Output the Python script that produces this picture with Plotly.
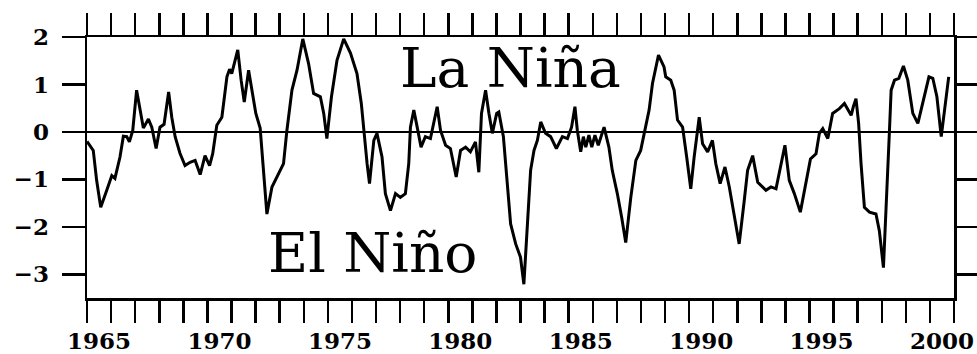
import plotly.graph_objects as go

# Index series (year, value)
years = [
    1965.00, 1965.26, 1965.40, 1965.57, 1965.82, 1966.03, 1966.16, 1966.37, 1966.51, 1966.65,
    1966.76, 1966.90, 1967.06, 1967.23, 1967.34, 1967.55, 1967.69, 1967.87, 1968.03, 1968.20,
    1968.39, 1968.52, 1968.66, 1968.86, 1969.07, 1969.28, 1969.49, 1969.70, 1969.90, 1970.09,
    1970.22, 1970.39, 1970.60, 1970.81, 1970.92, 1971.01, 1971.26, 1971.40, 1971.53, 1971.71,
    1971.85, 1972.01, 1972.19, 1972.33, 1972.47, 1972.68, 1972.95, 1973.16, 1973.30, 1973.51,
    1973.72, 1973.96, 1974.20, 1974.41, 1974.69, 1974.83, 1974.96, 1975.15, 1975.38, 1975.66,
    1975.94, 1976.21, 1976.39, 1976.49, 1976.63, 1976.73, 1976.91, 1977.04, 1977.25, 1977.39,
    1977.60, 1977.81, 1978.01, 1978.22, 1978.36, 1978.43, 1978.57, 1978.71, 1978.87, 1979.05,
    1979.26, 1979.54, 1979.68, 1979.89, 1980.09, 1980.33, 1980.51, 1980.72, 1980.92, 1981.13,
    1981.27, 1981.38, 1981.55, 1981.69, 1981.83, 1982.01, 1982.10, 1982.29, 1982.45, 1982.59,
    1982.80, 1983.00, 1983.14, 1983.32, 1983.42, 1983.56, 1983.70, 1983.84, 1984.04, 1984.25,
    1984.49, 1984.74, 1984.95, 1985.12, 1985.26, 1985.36, 1985.50, 1985.61, 1985.71, 1985.84,
    1985.96, 1986.09, 1986.23, 1986.47, 1986.67, 1986.81, 1987.02, 1987.20, 1987.37, 1987.58,
    1987.79, 1987.99, 1988.13, 1988.34, 1988.48, 1988.73, 1988.96, 1989.03, 1989.24, 1989.38,
    1989.52, 1989.73, 1989.90, 1990.07, 1990.21, 1990.42, 1990.56, 1990.77, 1990.97, 1991.11,
    1991.29, 1991.49, 1991.67, 1991.87, 1992.08, 1992.29, 1992.43, 1992.64, 1992.85, 1993.19,
    1993.40, 1993.61, 1993.82, 1993.98, 1994.16, 1994.37, 1994.62, 1994.81, 1995.04, 1995.27,
    1995.41, 1995.55, 1995.76, 1995.96, 1996.24, 1996.45, 1996.73, 1996.82, 1996.93, 1997.04,
    1997.14, 1997.28, 1997.49, 1997.76, 1997.90, 1998.07, 1998.21, 1998.32, 1998.39, 1998.53,
    1998.71, 1998.90, 1999.08, 1999.29, 1999.50, 1999.71, 1999.96, 2000.12, 2000.29, 2000.47,
    2000.60, 2000.78,
]
index_values = [
    -0.20, -0.39, -1.02, -1.59, -1.23, -0.92, -0.98, -0.53, -0.09, -0.10,
    -0.21, 0.03, 0.88, 0.39, 0.08, 0.27, 0.10, -0.35, 0.10, 0.16,
    0.84, 0.31, -0.10, -0.45, -0.71, -0.64, -0.60, -0.90, -0.50, -0.71,
    -0.46, 0.14, 0.31, 1.16, 1.32, 1.23, 1.73, 1.09, 0.63, 1.30,
    0.88, 0.39, 0.08, -0.81, -1.73, -1.16, -0.88, -0.67, 0.03, 0.88,
    1.30, 1.96, 1.44, 0.81, 0.74, 0.39, -0.14, 0.74, 1.51, 1.96,
    1.66, 1.23, 0.60, 0.00, -0.67, -1.09, -0.18, -0.03, -0.53, -1.30,
    -1.66, -1.30, -1.38, -1.30, -0.67, 0.10, 0.46, 0.10, -0.32, -0.10,
    -0.14, 0.53, 0.03, -0.28, -0.35, -0.95, -0.39, -0.32, -0.42, -0.21,
    -0.85, 0.39, 0.88, 0.39, -0.03, 0.39, 0.42, -0.10, -1.02, -1.94,
    -2.36, -2.64, -3.21, -1.80, -0.81, -0.39, -0.18, 0.21, -0.03, -0.10,
    -0.35, -0.10, -0.14, 0.10, 0.53, 0.03, -0.42, -0.10, -0.32, -0.07,
    -0.32, -0.07, -0.28, 0.10, -0.32, -0.81, -1.30, -1.80, -2.33, -1.38,
    -0.60, -0.39, -0.03, 0.46, 1.02, 1.62, 1.37, 1.16, 1.09, 0.88,
    0.25, 0.10, -0.53, -1.20, -0.53, 0.31, -0.25, -0.42, -0.18, -0.67,
    -1.09, -0.74, -1.16, -1.73, -2.36, -1.45, -0.81, -0.50, -1.06, -1.23,
    -1.16, -1.20, -0.67, -0.28, -1.02, -1.30, -1.69, -1.20, -0.57, -0.46,
    -0.03, 0.07, -0.14, 0.39, 0.49, 0.60, 0.35, 0.53, 0.70, 0.18,
    -0.67, -1.59, -1.69, -1.73, -2.08, -2.86, -1.38, 0.03, 0.88, 1.09,
    1.13, 1.39, 1.09, 0.39, 0.18, 0.60, 1.16, 1.13, 0.74, -0.10,
    0.39, 1.16,
]

year_ticks = list(range(1965, 2002))
label_years = [1965, 1970, 1975, 1980, 1985, 1990, 1995, 2000]
y_ticks = [-3, -2, -1, 0, 1, 2]

tick_font = dict(family="DejaVu Serif", size=23, color="black", weight="bold")

fig = go.Figure()
fig.add_trace(go.Scatter(
    x=years, y=index_values, mode="lines",
    line=dict(color="black", width=3),
    showlegend=False, hoverinfo="skip",
))
# invisible trace on the label axis so it is drawn
fig.add_trace(go.Scatter(
    x=[1965, 2001], y=[0, 0], mode="lines", xaxis="x2",
    line=dict(color="rgba(0,0,0,0)", width=0),
    showlegend=False, hoverinfo="skip",
))

fig.update_layout(
    autosize=True,
    margin=dict(l=87, r=23, t=37, b=56, autoexpand=False),
    paper_bgcolor="white", plot_bgcolor="white",
    hovermode=False,
    xaxis=dict(
        range=[1965, 2001], tickvals=year_ticks, showticklabels=False,
        ticks="outside", ticklen=22, tickwidth=2.5, tickcolor="black",
        showline=True, linewidth=2.5, linecolor="black", mirror="ticks",
        showgrid=False, zeroline=False, automargin=False,
    ),
    xaxis2=dict(
        overlaying="x", anchor="y", side="bottom", range=[1965, 2001],
        tickvals=[y + 0.5 for y in label_years], ticktext=[str(y) for y in label_years],
        ticks="outside", ticklen=22, tickcolor="rgba(0,0,0,0)",
        tickfont=tick_font, showline=False, showgrid=False, zeroline=False,
        automargin=False,
    ),
    yaxis=dict(
        range=[-3.5, 2], tickvals=y_ticks,
        ticks="outside", ticklen=23, tickwidth=2.5, tickcolor="black",
        showline=True, linewidth=2.5, linecolor="black", mirror="ticks",
        showgrid=False, zeroline=True, zerolinecolor="black", zerolinewidth=2,
        tickfont=tick_font, ticklabelstandoff=8, automargin=False,
    ),
    annotations=[
        dict(x=1982.6, y=1.35, xref="x", yref="y", text="La Niña", showarrow=False,
             font=dict(family="DejaVu Serif", size=55, color="black"),
             xanchor="center", yanchor="middle"),
        dict(x=1976.85, y=-2.55, xref="x", yref="y", text="El Niño", showarrow=False,
             font=dict(family="DejaVu Serif", size=55, color="black"),
             xanchor="center", yanchor="middle"),
    ],
)

# The plot div is pinned to the page corner so the default body margin
# does not push the 977x354 figure out of the window.
fig.write_html(
    "out.html",
    config={"displayModeBar": False, "staticPlot": True, "responsive": False},
    default_width="977px;position:absolute;left:0;top:0",
    default_height="354px",
)
